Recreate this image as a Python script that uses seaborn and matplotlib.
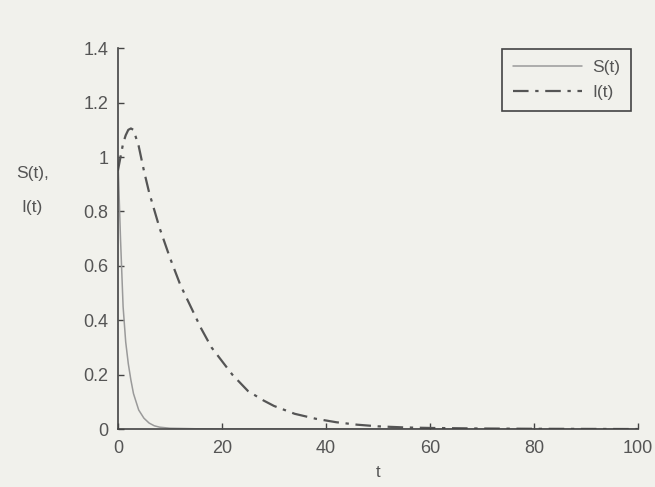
import pandas as pd
import matplotlib
matplotlib.use("Agg")
import matplotlib.pyplot as plt
import seaborn as sns

# Values
t_s = [0, 0.5, 1, 1.5, 2, 2.5, 3, 4, 5, 6, 7, 8, 10, 15, 20, 40, 60, 80, 100]
s_vals = [1.0, 0.7, 0.45, 0.32, 0.24, 0.18, 0.13, 0.07, 0.04, 0.022, 0.012,
          0.007, 0.003, 0.001, 0.0, 0.0, 0.0, 0.0, 0.0]

t_i = [0, 1, 1.5, 2, 2.5, 3, 4, 5, 6, 8, 10, 12, 14, 16, 18, 20, 22, 25, 28,
       30, 34, 38, 42, 46, 50, 55, 60, 70, 80, 100]
i_vals = [0.95, 1.05, 1.08, 1.1, 1.105, 1.1, 1.04, 0.95, 0.87, 0.74, 0.63,
          0.53, 0.45, 0.37, 0.3, 0.25, 0.2, 0.14, 0.105, 0.085, 0.056, 0.038,
          0.025, 0.016, 0.01, 0.006, 0.004, 0.002, 0.001, 0.0]

x_ticks = [0, 20, 40, 60, 80, 100]
y_ticks = [0, 0.2, 0.4, 0.6, 0.8, 1, 1.2, 1.4]
y_tick_labels = ["0", "0.2", "0.4", "0.6", "0.8", "1", "1.2", "1.4"]

df_s = pd.DataFrame({"t": t_s, "v": s_vals})
df_i = pd.DataFrame({"t": t_i, "v": i_vals})

sns.set_theme(style="ticks")
bg = "#f1f1ec"
txt_col = "#555555"
plt.rcParams["font.family"] = ["Liberation Sans", "DejaVu Sans"]

fig = plt.figure(figsize=(6.55, 4.87), dpi=100, facecolor=bg)
ax = fig.add_axes([0.180, 0.119, 0.794, 0.782], facecolor=bg)

sns.lineplot(data=df_s, x="t", y="v", ax=ax, color="#9a9a9a", linewidth=1.1,
             label="S(t)")
sns.lineplot(data=df_i, x="t", y="v", ax=ax, color="#555555", linewidth=1.6,
             label="I(t)")
ax.lines[1].set_dashes([7, 3, 1.5, 3])

ax.set_xlim(0, 100)
ax.set_ylim(0, 1.4)
ax.set_xticks(x_ticks)
ax.set_yticks(y_ticks)
ax.set_yticklabels(y_tick_labels)
ax.tick_params(direction="in", length=4, width=1, colors="#444444",
               labelsize=13)
ax.tick_params(axis="x", pad=8)
ax.tick_params(axis="y", pad=7)
for lab in ax.get_xticklabels() + ax.get_yticklabels():
    lab.set_color(txt_col)

sns.despine(ax=ax)
for side in ["left", "bottom"]:
    ax.spines[side].set_color("#444444")
    ax.spines[side].set_linewidth(1.2)

ax.set_xlabel("t", fontsize=12, color=txt_col, labelpad=6)
ax.set_ylabel("S(t),\n\nI(t)", fontsize=12.5, color=txt_col, rotation=0,
              va="center", ha="center", linespacing=1.15)
ax.yaxis.set_label_coords(-0.165, 0.627)

leg = ax.legend(loc="upper right", bbox_to_anchor=(1.003, 1.02), frameon=True,
                fancybox=False, edgecolor="#444444", facecolor=bg,
                fontsize=12.5, handlelength=4.0, handletextpad=0.6,
                borderpad=0.6, labelspacing=0.6)
leg.get_frame().set_linewidth(1.2)
leg.get_frame().set_alpha(1)
for txt in leg.get_texts():
    txt.set_color(txt_col)

plt.savefig("out.png", dpi=100, facecolor=bg)
